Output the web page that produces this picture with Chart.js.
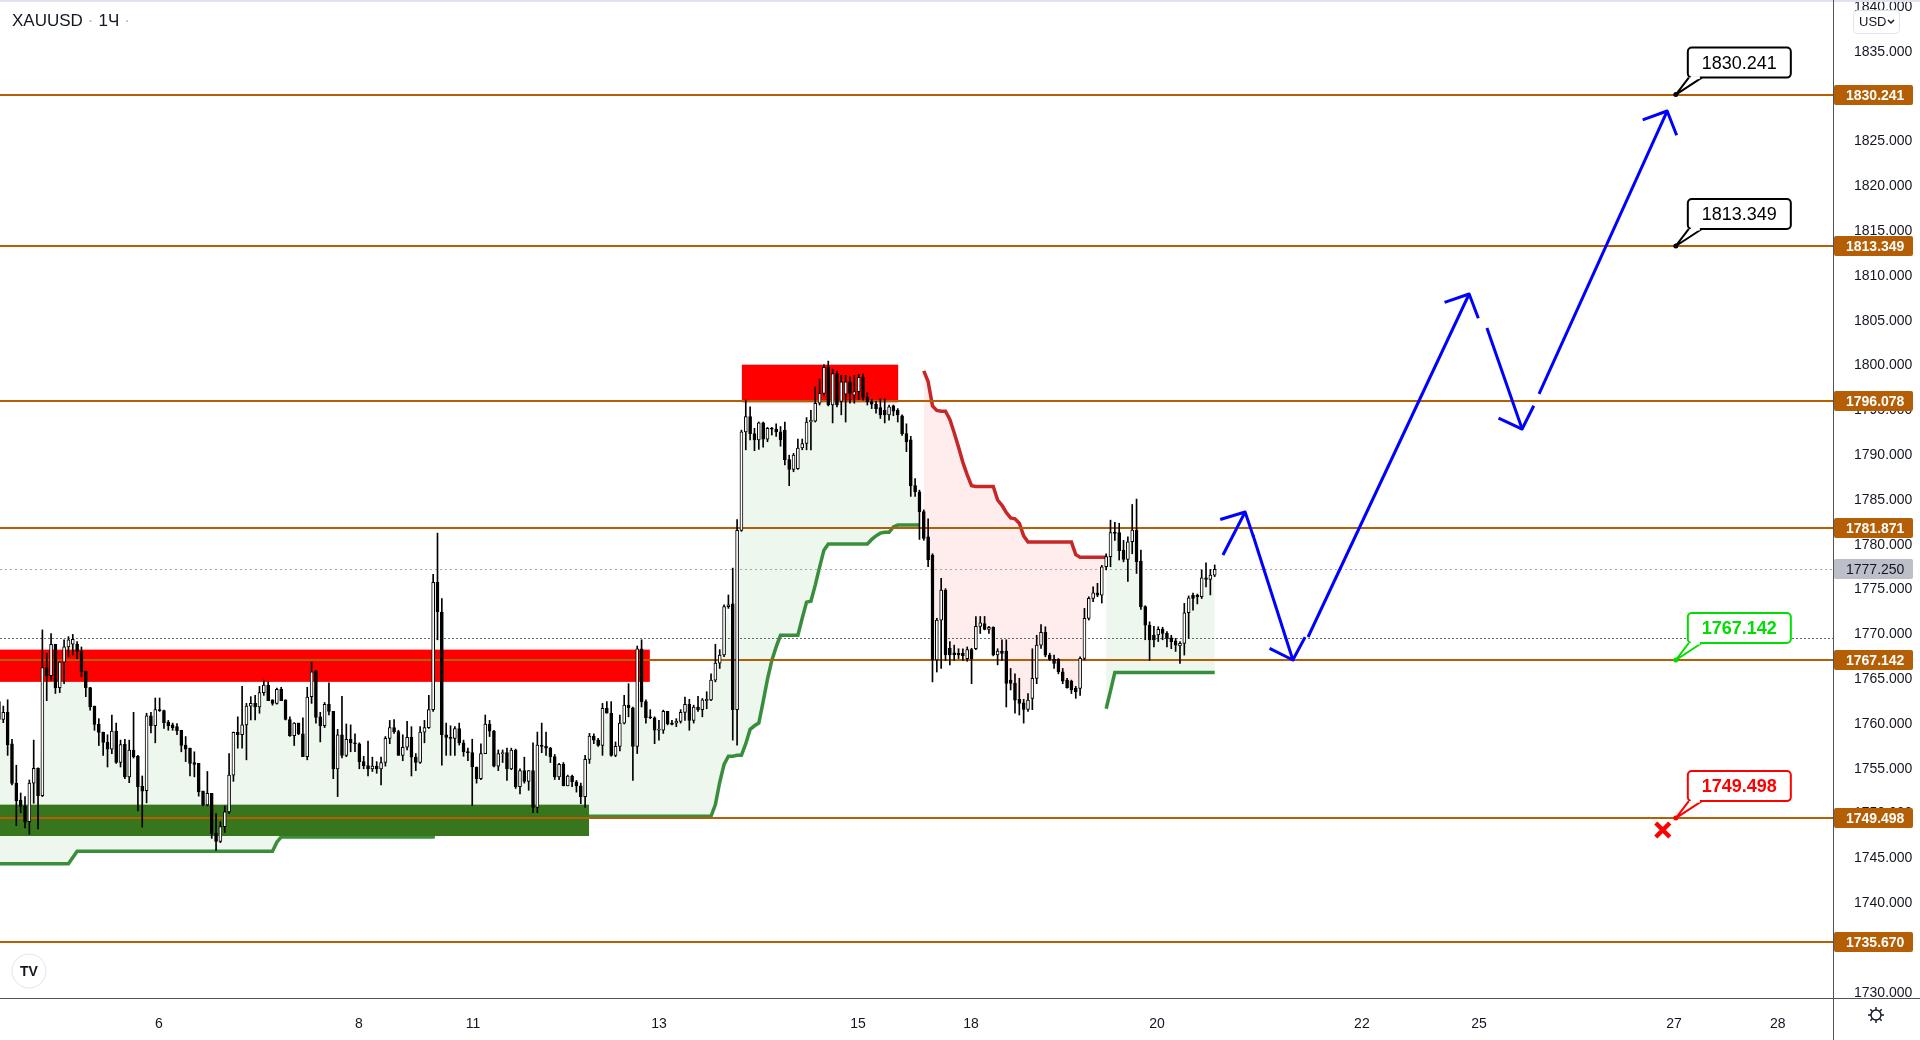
<!DOCTYPE html>
<html>
<head>
<meta charset="utf-8">
<title>XAUUSD 1Ч</title>
<script src="https://cdn.jsdelivr.net/npm/chart.js"></script>
<style>
  html, body { margin: 0; padding: 0; background: #fff; }
  #wrap { position: relative; width: 1920px; height: 1040px; overflow: hidden; }
  #title { position: absolute; left: 12px; top: 11px; font: 17px/20px "Liberation Sans", Arial, sans-serif; color: #131722; white-space: nowrap; }
  #title .dot { color: #b2b5be; margin: 0 5px; }
</style>
</head>
<body>
<div id="wrap">
  <canvas id="chart" width="1920" height="1040"></canvas>
  <div id="title">XAUUSD<span class="dot">·</span>1Ч<span class="dot">·</span></div>
</div>
<script>
// hourly candles, index 0 = first bar at the left edge
const opens = [
  1762.5, 1760.5, 1761.3, 1757.8, 1753.4, 1751.5, 1750.85, 1749.1, 1753.4, 1755.05,
  1752.0, 1766.3, 1765.4, 1768.9, 1764.05, 1766.9, 1768.6, 1768.9, 1768.9, 1768.1,
  1765.9, 1764.05, 1762.0, 1759.96, 1759.07, 1757.95, 1757.2, 1759.2, 1755.7, 1757.75,
  1754.1, 1757.1, 1756.4, 1753.05, 1752.55, 1760.9, 1759.8, 1761.6, 1761.5, 1760.2,
  1759.9, 1759.7, 1759.3, 1757.65, 1757.3, 1755.7, 1755.6, 1752.5, 1750.96, 1752.25,
  1747.8, 1746.9, 1748.54, 1750.2, 1754.3, 1759.07, 1758.8, 1759.9, 1762.0, 1762.3,
  1761.9, 1763.5, 1764.35, 1762.7, 1762.3, 1763.9, 1762.7, 1760.5, 1758.7, 1760.1,
  1758.9, 1756.35, 1763.04, 1765.9, 1760.8, 1759.8, 1762.2, 1761.4, 1755.0, 1758.8,
  1756.5, 1758.3, 1757.9, 1757.8, 1755.8, 1755.35, 1755.0, 1755.3, 1755.0, 1755.7,
  1758.4, 1759.6, 1759.15, 1756.5, 1757.4, 1758.5, 1756.3, 1755.7, 1759.1, 1759.6,
  1761.6, 1775.8, 1772.5, 1758.8, 1758.5, 1758.4, 1759.5, 1757.9, 1756.9, 1756.8,
  1755.2, 1753.9, 1756.7, 1760.0, 1759.2, 1755.3, 1756.7, 1756.8, 1755.0, 1757.1,
  1753.0, 1754.8, 1753.6, 1754.8, 1750.7, 1757.65, 1757.5, 1757.3, 1756.35, 1754.1,
  1755.5, 1753.1, 1754.2, 1753.55, 1753.1, 1751.9, 1756.05, 1758.65, 1758.2, 1757.6,
  1761.74, 1761.2, 1756.5, 1757.5, 1760.1, 1762.1, 1761.8, 1757.5, 1768.4, 1762.5,
  1760.8, 1760.7, 1759.3, 1759.3, 1761.4, 1760.1, 1760.1, 1760.3, 1761.3, 1762.2,
  1760.4, 1761.9, 1761.6, 1762.6, 1762.7, 1764.9, 1766.8, 1767.7, 1773.1, 1773.4,
  1761.6, 1781.6, 1792.6, 1794.3, 1792.4, 1791.7, 1793.6, 1791.8, 1793.0, 1792.9,
  1792.6, 1792.8, 1789.5, 1788.4, 1788.5, 1790.8, 1791.3, 1793.7, 1793.8, 1795.8,
  1796.9, 1799.8, 1795.6, 1799.1, 1796.0, 1796.8, 1798.2, 1796.7, 1797.1, 1798.7,
  1796.45, 1795.97, 1795.7, 1795.3, 1795.0, 1794.5, 1795.5, 1795.0, 1794.4, 1792.4,
  1791.7, 1786.6, 1785.9, 1783.7, 1780.9, 1778.85, 1767.14, 1771.6, 1774.95, 1768.44,
  1767.95, 1767.9, 1767.9, 1767.3, 1768.3, 1768.4, 1770.9, 1771.2, 1770.56, 1770.78,
  1767.7, 1768.14, 1768.14, 1764.9, 1764.53, 1762.75, 1762.37, 1761.63, 1762.86, 1765.09,
  1768.81, 1770.22, 1767.7, 1767.21, 1767.21, 1765.83, 1764.9, 1764.79, 1763.97, 1763.97,
  1767.32, 1771.79, 1774.02, 1774.65, 1774.39, 1777.55, 1778.67, 1781.35, 1781.35, 1779.41,
  1778.37, 1780.34, 1781.64, 1778.18, 1773.09, 1771.04, 1769.93, 1769.93, 1770.56, 1770.11,
  1769.63, 1769.29, 1768.7, 1769.0, 1772.42, 1774.35, 1774.35, 1774.2, 1776.32, 1776.14, 1776.62
];
const highs = [
  1763.0, 1762.0, 1762.7, 1758.3, 1755.4, 1752.3, 1751.9, 1753.75, 1758.2, 1755.1,
  1770.5, 1767.9, 1770.1, 1768.9, 1766.9, 1769.4, 1769.75, 1770.0, 1769.2, 1768.6,
  1765.9, 1764.1, 1762.0, 1760.6, 1759.1, 1758.8, 1761.0, 1760.1, 1758.2, 1758.3,
  1758.2, 1761.3, 1756.5, 1754.2, 1761.2, 1761.3, 1762.9, 1762.9, 1761.55, 1760.4,
  1760.1, 1760.05, 1759.3, 1758.6, 1757.3, 1756.9, 1755.6, 1752.5, 1754.7, 1752.25,
  1750.0, 1749.1, 1750.85, 1756.7, 1759.1, 1760.8, 1764.2, 1762.3, 1763.05, 1763.2,
  1764.2, 1764.9, 1764.7, 1762.7, 1764.0, 1764.1, 1762.7, 1760.8, 1760.15, 1760.1,
  1760.7, 1764.1, 1766.9, 1766.0, 1761.3, 1762.4, 1764.6, 1761.4, 1759.4, 1763.1,
  1760.0, 1759.9, 1758.9, 1757.9, 1756.4, 1758.1, 1756.3, 1755.8, 1756.3, 1758.6,
  1760.4, 1760.5, 1759.3, 1758.8, 1760.3, 1759.7, 1756.7, 1759.7, 1760.4, 1763.2,
  1776.7, 1781.3, 1774.0, 1760.1, 1759.8, 1759.7, 1760.1, 1758.2, 1757.3, 1758.3,
  1755.2, 1757.8, 1761.0, 1760.4, 1759.3, 1757.1, 1757.1, 1757.3, 1757.3, 1757.2,
  1755.0, 1756.3, 1754.8, 1757.9, 1759.1, 1760.1, 1759.1, 1757.4, 1756.6, 1755.6,
  1755.7, 1754.3, 1754.3, 1753.7, 1753.4, 1756.5, 1758.95, 1758.9, 1758.4, 1762.3,
  1762.5, 1762.5, 1758.0, 1761.0, 1763.2, 1764.5, 1761.9, 1768.7, 1769.4, 1762.7,
  1761.6, 1760.8, 1760.4, 1761.55, 1761.4, 1760.4, 1760.6, 1761.6, 1763.0, 1762.75,
  1762.1, 1763.1, 1762.85, 1763.6, 1765.6, 1768.9, 1768.3, 1773.3, 1774.4, 1777.4,
  1782.8, 1792.8, 1796.15, 1795.4, 1793.0, 1793.7, 1793.7, 1793.1, 1793.1, 1793.5,
  1793.2, 1793.7, 1790.0, 1790.2, 1791.8, 1791.8, 1794.2, 1795.0, 1797.6, 1798.5,
  1800.1, 1800.5, 1799.6, 1799.4, 1798.9, 1798.9, 1798.75, 1798.9, 1799.0, 1799.05,
  1796.97, 1796.2, 1796.0, 1796.3, 1796.3, 1795.6, 1795.6, 1795.2, 1794.5, 1793.5,
  1792.1, 1787.4, 1786.1, 1783.9, 1782.9, 1779.0, 1771.8, 1776.25, 1775.1, 1769.2,
  1768.8, 1768.4, 1768.4, 1768.6, 1768.45, 1772.0, 1772.0, 1772.0, 1770.9, 1770.85,
  1768.4, 1769.4, 1769.4, 1766.2, 1765.6, 1765.1, 1762.75, 1763.4, 1768.4, 1769.9,
  1771.1, 1770.85, 1767.9, 1767.7, 1767.3, 1766.2, 1765.1, 1764.9, 1764.2, 1767.5,
  1772.9, 1774.2, 1775.3, 1775.7, 1777.7, 1779.0, 1782.75, 1782.5, 1782.4, 1780.5,
  1780.9, 1784.5, 1785.1, 1779.4, 1773.2, 1771.4, 1770.9, 1770.85, 1770.8, 1770.3,
  1769.9, 1769.55, 1769.2, 1773.46, 1774.3, 1774.6, 1774.5, 1777.2, 1778.0, 1777.25, 1777.75
];
const lows = [
  1758.8, 1760.15, 1756.5, 1753.2, 1748.65, 1750.1, 1748.4, 1747.7, 1751.15, 1748.3,
  1751.9, 1762.6, 1764.9, 1763.4, 1763.5, 1764.5, 1767.5, 1767.7, 1767.3, 1765.3,
  1763.05, 1761.55, 1759.3, 1757.6, 1756.5, 1755.2, 1756.7, 1755.6, 1755.2, 1753.9,
  1753.45, 1756.2, 1750.3, 1748.5, 1751.2, 1759.0, 1757.9, 1761.4, 1759.5, 1759.3,
  1759.3, 1758.8, 1756.9, 1755.8, 1754.2, 1754.1, 1751.95, 1750.85, 1750.85, 1747.24,
  1745.9, 1746.76, 1747.9, 1750.0, 1753.6, 1757.3, 1757.3, 1756.0, 1760.45, 1760.45,
  1761.2, 1763.2, 1762.6, 1762.1, 1762.2, 1762.6, 1760.45, 1758.6, 1757.6, 1758.8,
  1756.35, 1756.0, 1762.3, 1760.1, 1758.0, 1759.6, 1761.0, 1753.9, 1751.9, 1756.2,
  1756.35, 1756.9, 1756.9, 1755.0, 1755.0, 1754.2, 1754.7, 1754.5, 1753.2, 1755.3,
  1757.8, 1758.95, 1756.5, 1755.9, 1757.1, 1754.2, 1754.8, 1755.6, 1757.9, 1759.5,
  1761.4, 1769.4, 1755.4, 1756.5, 1756.5, 1756.5, 1757.65, 1756.4, 1755.9, 1750.9,
  1753.4, 1753.8, 1756.7, 1758.6, 1755.2, 1754.8, 1755.7, 1753.7, 1754.9, 1752.8,
  1752.2, 1753.4, 1752.6, 1750.1, 1750.1, 1756.8, 1756.5, 1755.7, 1753.8, 1753.8,
  1753.1, 1753.1, 1753.0, 1752.4, 1751.1, 1750.7, 1755.6, 1757.8, 1757.5, 1756.5,
  1761.2, 1756.4, 1756.35, 1757.0, 1760.0, 1760.8, 1753.7, 1756.7, 1761.9, 1760.1,
  1760.6, 1757.8, 1758.2, 1758.95, 1759.9, 1759.9, 1759.7, 1760.1, 1760.4, 1759.3,
  1760.1, 1761.4, 1760.8, 1761.7, 1762.6, 1764.7, 1766.2, 1767.5, 1772.9, 1758.2,
  1757.65, 1781.5, 1790.6, 1791.7, 1790.5, 1790.65, 1790.9, 1791.5, 1792.25, 1792.1,
  1791.0, 1788.9, 1786.6, 1788.15, 1788.4, 1790.6, 1790.6, 1790.6, 1793.7, 1795.6,
  1796.7, 1795.5, 1793.6, 1795.4, 1794.5, 1793.7, 1795.8, 1795.8, 1796.2, 1796.15,
  1795.6, 1795.2, 1794.7, 1794.1, 1793.6, 1793.9, 1794.4, 1793.7, 1792.2, 1790.4,
  1785.4, 1785.4, 1780.6, 1780.5, 1777.55, 1764.7, 1765.8, 1766.2, 1767.1, 1766.6,
  1767.1, 1767.3, 1767.1, 1767.0, 1764.5, 1768.3, 1770.1, 1770.5, 1770.1, 1767.6,
  1766.6, 1767.1, 1761.9, 1763.8, 1761.2, 1761.0, 1760.1, 1761.4, 1761.6, 1764.5,
  1768.44, 1767.5, 1767.1, 1766.2, 1765.6, 1764.5, 1764.0, 1763.4, 1762.86, 1763.2,
  1767.14, 1771.6, 1773.65, 1774.2, 1773.5, 1777.2, 1777.55, 1780.5, 1778.3, 1778.1,
  1775.9, 1779.0, 1776.8, 1772.8, 1769.4, 1767.1, 1768.6, 1769.2, 1769.4, 1768.6,
  1768.4, 1768.1, 1766.76, 1767.69, 1769.55, 1772.7, 1773.4, 1774.0, 1775.3, 1774.4, 1776.45
];
const closes = [
  1760.5, 1761.3, 1757.66, 1753.38, 1751.44, 1750.8, 1749.1, 1753.4, 1755.05, 1752.0,
  1766.3, 1765.36, 1768.9, 1764.05, 1766.9, 1768.6, 1769.4, 1769.45, 1768.1, 1765.8,
  1764.05, 1761.9, 1759.96, 1759.07, 1757.95, 1757.2, 1759.2, 1755.7, 1757.7, 1754.1,
  1757.1, 1756.35, 1753.0, 1752.5, 1760.9, 1759.8, 1761.6, 1761.5, 1760.15, 1759.8,
  1759.6, 1759.25, 1757.6, 1757.2, 1755.6, 1755.5, 1752.45, 1750.96, 1752.25, 1747.8,
  1746.9, 1748.54, 1750.2, 1754.3, 1759.07, 1758.8, 1759.9, 1762.0, 1762.3, 1761.9,
  1763.5, 1764.35, 1762.6, 1762.3, 1763.87, 1762.6, 1760.5, 1758.7, 1760.1, 1758.9,
  1756.35, 1763.0, 1765.83, 1760.74, 1759.8, 1762.2, 1761.4, 1755.0, 1758.8, 1756.5,
  1758.3, 1757.9, 1757.8, 1755.8, 1755.35, 1755.0, 1755.3, 1755.0, 1755.7, 1758.4,
  1759.6, 1759.15, 1756.5, 1757.4, 1758.5, 1756.3, 1755.7, 1759.1, 1759.6, 1761.6,
  1775.8, 1772.5, 1758.8, 1758.5, 1758.4, 1759.5, 1757.9, 1756.9, 1756.8, 1755.2,
  1753.9, 1756.7, 1760.0, 1759.2, 1755.3, 1756.7, 1756.8, 1755.0, 1757.1, 1753.0,
  1754.8, 1753.6, 1754.8, 1750.7, 1757.65, 1757.5, 1757.3, 1756.35, 1754.1, 1755.5,
  1753.1, 1754.2, 1753.55, 1753.1, 1751.9, 1756.05, 1758.65, 1758.2, 1757.6, 1761.74,
  1761.2, 1756.5, 1757.5, 1760.1, 1762.1, 1761.8, 1757.5, 1768.4, 1762.5, 1760.7,
  1760.7, 1759.3, 1759.4, 1761.4, 1760.0, 1759.96, 1760.3, 1761.3, 1762.2, 1760.4,
  1761.9, 1761.6, 1762.7, 1762.75, 1764.9, 1766.8, 1767.7, 1773.1, 1773.3, 1761.6,
  1781.6, 1792.6, 1794.3, 1792.4, 1791.7, 1793.6, 1791.8, 1793.0, 1792.9, 1792.6,
  1791.7, 1789.5, 1788.4, 1790.0, 1790.8, 1791.3, 1793.7, 1793.9, 1795.8, 1796.9,
  1799.8, 1795.6, 1799.1, 1795.6, 1798.2, 1798.2, 1796.9, 1797.1, 1798.7, 1796.45,
  1795.97, 1795.7, 1795.2, 1794.5, 1794.5, 1795.4, 1794.9, 1794.5, 1792.4, 1791.5,
  1786.6, 1785.9, 1783.7, 1780.7, 1778.3, 1767.14, 1771.6, 1774.95, 1767.7, 1767.7,
  1767.7, 1767.7, 1767.6, 1768.3, 1767.3, 1770.9, 1771.3, 1770.56, 1770.78, 1767.7,
  1768.14, 1767.88, 1764.53, 1764.53, 1762.67, 1762.3, 1761.63, 1762.67, 1765.09, 1768.81,
  1770.22, 1767.69, 1767.21, 1766.76, 1765.83, 1764.79, 1764.05, 1763.79, 1763.6, 1767.32,
  1771.79, 1774.02, 1774.65, 1774.39, 1777.55, 1778.67, 1781.35, 1781.27, 1779.34, 1778.37,
  1780.34, 1781.64, 1778.11, 1773.09, 1771.04, 1769.37, 1769.37, 1770.56, 1770.11, 1769.55,
  1769.18, 1768.81, 1769.0, 1772.42, 1774.09, 1774.02, 1774.2, 1776.32, 1776.14, 1776.62, 1777.25
];

// supertrend, up phase bars 0..212, down phase 213..255, up again 255..280
const upTrendA = [
  1744.4, 1744.4, 1744.4, 1744.4, 1744.4, 1744.4, 1744.4, 1744.4, 1744.4, 1744.4,
  1744.4, 1744.4, 1744.4, 1744.4, 1744.4, 1744.4, 1744.4, 1745.1, 1745.8, 1745.8,
  1745.8, 1745.8, 1745.8, 1745.8, 1745.8, 1745.8, 1745.8, 1745.8, 1745.8, 1745.8,
  1745.8, 1745.8, 1745.8, 1745.8, 1745.8, 1745.8, 1745.8, 1745.8, 1745.8, 1745.8,
  1745.8, 1745.8, 1745.8, 1745.8, 1745.8, 1745.8, 1745.8, 1745.8, 1745.8, 1745.8,
  1745.8, 1745.8, 1745.8, 1745.8, 1745.8, 1745.8, 1745.8, 1745.8, 1745.8, 1745.8,
  1745.8, 1745.8, 1745.8, 1745.8, 1746.8, 1747.4, 1747.4, 1747.4, 1747.4, 1747.4,
  1747.4, 1747.4, 1747.4, 1747.4, 1747.4, 1747.4, 1747.4, 1747.4, 1747.4, 1747.4,
  1747.4, 1747.4, 1747.4, 1747.4, 1747.4, 1747.4, 1747.4, 1747.4, 1747.4, 1747.4,
  1747.4, 1747.4, 1747.4, 1747.4, 1747.4, 1747.4, 1747.4, 1747.4, 1747.4, 1747.4,
  1747.4, 1749.7, 1749.7, 1749.7, 1749.7, 1749.7, 1749.7, 1749.7, 1749.7, 1749.7,
  1749.7, 1749.7, 1749.7, 1749.7, 1749.7, 1749.7, 1749.7, 1749.7, 1749.7, 1749.7,
  1749.7, 1749.7, 1749.7, 1749.7, 1749.7, 1749.7, 1749.7, 1749.7, 1749.7, 1749.7,
  1749.7, 1749.7, 1749.7, 1749.7, 1749.7, 1749.7, 1749.7, 1749.7, 1749.7, 1749.7,
  1749.7, 1749.7, 1749.7, 1749.7, 1749.7, 1749.7, 1749.7, 1749.7, 1749.7, 1749.7,
  1749.7, 1749.7, 1749.7, 1749.7, 1749.7, 1749.7, 1749.7, 1749.7, 1749.7, 1749.7,
  1749.7, 1749.7, 1749.7, 1749.7, 1749.7, 1751.0, 1753.5, 1755.5, 1756.4, 1756.4,
  1756.5, 1756.5, 1757.8, 1759.4, 1759.8, 1760.1, 1762.5, 1765.0, 1767.1, 1768.6,
  1769.9, 1769.9, 1769.9, 1769.9, 1769.9, 1771.8, 1773.6, 1773.7, 1775.5, 1777.5,
  1779.4, 1780.1, 1780.1, 1780.1, 1780.1, 1780.1, 1780.1, 1780.1, 1780.1, 1780.1,
  1780.1, 1780.6, 1781.0, 1781.3, 1781.4, 1781.4, 1782.0, 1782.2, 1782.2, 1782.2,
  1782.2, 1782.2, 1782.2
];
const downTrendStart = 213;
const downTrend = [
  1799.4, 1798.2, 1795.5, 1795.0, 1794.9, 1794.9, 1794.0, 1792.5, 1790.9, 1789.2,
  1787.8, 1786.6, 1786.5, 1786.5, 1786.5, 1786.5, 1786.5, 1785.0, 1784.4, 1783.6,
  1783.0, 1782.9, 1782.4, 1781.0, 1780.3, 1780.3, 1780.3, 1780.3, 1780.3, 1780.3,
  1780.3, 1780.3, 1780.3, 1780.3, 1780.3, 1778.9, 1778.6, 1778.6, 1778.6, 1778.6,
  1778.6, 1778.6, 1778.6
];
const upTrendBStart = 255;
const upTrendB = [
  1761.7, 1763.7, 1765.76, 1765.76, 1765.76, 1765.76, 1765.76, 1765.76, 1765.76, 1765.76,
  1765.76, 1765.76, 1765.76, 1765.76, 1765.76, 1765.76, 1765.76, 1765.76, 1765.76, 1765.76,
  1765.76, 1765.76, 1765.76, 1765.76, 1765.76, 1765.76
];

// axes
const dayTickPos = [36.86, 82.92, 109.17, 152.0, 197.85, 223.87, 266.7, 313.9, 340.87, 385.8, 409.7];
const dayLabels = ['6', '8', '11', '13', '15', '18', '20', '22', '25', '27', '28'];
const priceTicks = [1730, 1735, 1740, 1745, 1750, 1755, 1760, 1765, 1770, 1775, 1780,
  1785, 1790, 1795, 1800, 1805, 1810, 1815, 1820, 1825, 1830, 1835, 1840];

// drawings: levels, zones [fromBar, toBar, low, high], arrows, callouts
const levels = [1830.241, 1813.349, 1796.078, 1781.871, 1767.142, 1749.498, 1735.670];
const lastPrice = 1777.25;
const prevPriceLine = 1769.6;
const supplyZones = [[-5, 149.9, 1764.7, 1768.3], [171.1, 207.1, 1795.9, 1800.1]];
const demandZones = [[-5, 135.9, 1747.5, 1751.0]];
const arrowFrom = [[281.9, 1778.86], [288.8, 1781.09], [301.5, 1769.71], [342.7, 1804.19], [354.7, 1796.83]];
const arrowTo = [[287.0, 1783.66], [298.0, 1767.14], [338.6, 1807.99], [350.8, 1792.92], [384.2, 1828.41]];
const calloutBar = 386.2;
const calloutPrices = [1830.241, 1813.349, 1767.142, 1749.498];
const calloutColors = ['#000000', '#000000', '#00dd00', '#ff0000'];
const calloutBold = [false, false, true, true];
const stopMark = [383.2, 1748.17];

const ORANGE = '#b45f06';
const FONT = '"Liberation Sans", Arial, sans-serif';

const bars = opens.map((o, i) => i);
const mid = i => (opens[i] + closes[i]) / 2;
const wickData = bars.map(i => ({ x: i, y: [lows[i], highs[i]] }));
const bodyData = bars.map(i => ({ x: i, y: [Math.min(opens[i], closes[i]), Math.max(opens[i], closes[i])] }));
const bodyColors = bars.map(i => closes[i] >= opens[i] ? '#ffffff' : '#000000');

const upA = upTrendA.map((v, k) => ({ x: k, y: v }));
const midA = upTrendA.map((v, k) => ({ x: k, y: mid(k) }));
const upB = upTrendB.map((v, k) => ({ x: upTrendBStart + k, y: v }));
const midB = upTrendB.map((v, k) => ({ x: upTrendBStart + k, y: mid(upTrendBStart + k) }));
const dn = downTrend.map((v, k) => ({ x: downTrendStart + k, y: v }));
const midDn = downTrend.map((v, k) => ({ x: downTrendStart + k, y: mid(downTrendStart + k) }));

const greenFill = 'rgba(76,175,80,0.1)';
const redFill = 'rgba(255,82,82,0.11)';

function lineSet(data, color, width, order, fill) {
  return { type: 'line', data: data, borderColor: color, borderWidth: width, pointRadius: 0,
    tension: 0, fill: fill, order: order, spanGaps: false };
}

function roundRect(ctx, x, y, w, h, r) {
  ctx.beginPath();
  ctx.moveTo(x + r, y);
  ctx.arcTo(x + w, y, x + w, y + h, r);
  ctx.arcTo(x + w, y + h, x, y + h, r);
  ctx.arcTo(x, y + h, x, y, r);
  ctx.arcTo(x, y, x + w, y, r);
  ctx.closePath();
}

const overlay = {
  id: 'overlay',
  beforeDatasetDraw(chart, args) {
    if (args.index !== 1) return; // right before the wicks
    const { ctx, chartArea: a, scales: { x, y } } = chart;
    ctx.save();
    ctx.beginPath();
    ctx.rect(a.left, a.top, a.right - a.left, a.bottom - a.top);
    ctx.clip();

    ctx.fillStyle = '#ff0000';
    supplyZones.forEach(z => {
      const x1 = x.getPixelForValue(z[0]), x2 = x.getPixelForValue(z[1]);
      const y1 = y.getPixelForValue(z[3]), y2 = y.getPixelForValue(z[2]);
      ctx.fillRect(x1, y1, x2 - x1, y2 - y1);
    });
    ctx.fillStyle = '#38761d';
    demandZones.forEach(z => {
      const x1 = x.getPixelForValue(z[0]), x2 = x.getPixelForValue(z[1]);
      const y1 = y.getPixelForValue(z[3]), y2 = y.getPixelForValue(z[2]);
      ctx.fillRect(x1, y1, x2 - x1, y2 - y1);
    });

    // dotted price lines
    ctx.lineWidth = 1;
    ctx.setLineDash([2, 3]);
    ctx.strokeStyle = '#a3a6af';
    let py = Math.round(y.getPixelForValue(lastPrice)) + 0.5;
    ctx.beginPath(); ctx.moveTo(a.left, py); ctx.lineTo(a.right, py); ctx.stroke();
    ctx.setLineDash([2, 2]);
    ctx.strokeStyle = '#666a75';
    py = Math.round(y.getPixelForValue(prevPriceLine)) + 0.5;
    ctx.beginPath(); ctx.moveTo(a.left, py); ctx.lineTo(a.right, py); ctx.stroke();
    ctx.setLineDash([]);

    // horizontal levels
    ctx.strokeStyle = ORANGE;
    ctx.lineWidth = 2;
    levels.forEach(p => {
      const ly = Math.round(y.getPixelForValue(p));
      ctx.beginPath(); ctx.moveTo(a.left, ly); ctx.lineTo(a.right, ly); ctx.stroke();
    });
    ctx.restore();
  },
  afterDatasetsDraw(chart) {
    const { ctx, scales: { x, y } } = chart;
    ctx.save();

    // blue path arrows
    ctx.strokeStyle = '#0000ff';
    ctx.lineWidth = 3;
    ctx.lineJoin = 'round';
    arrowFrom.forEach((f, k) => {
      const t = arrowTo[k];
      const x1 = x.getPixelForValue(f[0]), y1 = y.getPixelForValue(f[1]);
      const x2 = x.getPixelForValue(t[0]), y2 = y.getPixelForValue(t[1]);
      const ang = Math.atan2(y1 - y2, x1 - x2);
      ctx.beginPath(); ctx.moveTo(x1, y1); ctx.lineTo(x2, y2); ctx.stroke();
      ctx.beginPath();
      ctx.moveTo(x2 + 26 * Math.cos(ang + 0.8), y2 + 26 * Math.sin(ang + 0.8));
      ctx.lineTo(x2, y2);
      ctx.lineTo(x2 + 26 * Math.cos(ang - 0.8), y2 + 26 * Math.sin(ang - 0.8));
      ctx.stroke();
    });

    // price callouts
    calloutPrices.forEach((p, k) => {
      const ax = x.getPixelForValue(calloutBar), ay = y.getPixelForValue(p);
      const col = calloutColors[k];
      const bx = ax + 12, by = ay - 47, bw = 103, bh = 30;
      ctx.lineWidth = 2;
      ctx.strokeStyle = col;
      ctx.fillStyle = '#ffffff';
      roundRect(ctx, bx, by, bw, bh, 4);
      ctx.fill(); ctx.stroke();
      ctx.beginPath();
      ctx.moveTo(bx + 1, by + bh); ctx.lineTo(ax, ay); ctx.lineTo(bx + 14, by + bh);
      ctx.closePath(); ctx.fill();
      ctx.beginPath();
      ctx.moveTo(bx + 1, by + bh); ctx.lineTo(ax, ay); ctx.lineTo(bx + 14, by + bh);
      ctx.stroke();
      ctx.fillStyle = '#ffffff';
      ctx.fillRect(bx + 3, by + bh - 1.5, 9, 3);
      ctx.fillStyle = col;
      ctx.beginPath(); ctx.arc(ax, ay, 2.5, 0, Math.PI * 2); ctx.fill();
      ctx.font = (calloutBold[k] ? 'bold ' : '') + '18px ' + FONT;
      ctx.textAlign = 'center';
      ctx.textBaseline = 'middle';
      ctx.fillText(p.toFixed(3), bx + bw / 2, by + bh / 2 + 1);
    });

    // stop mark
    const sx = x.getPixelForValue(stopMark[0]), sy = y.getPixelForValue(stopMark[1]);
    ctx.strokeStyle = '#ff0000';
    ctx.lineWidth = 4.5;
    ctx.lineCap = 'butt';
    ctx.beginPath();
    ctx.moveTo(sx - 7, sy - 7); ctx.lineTo(sx + 7, sy + 7);
    ctx.moveTo(sx + 7, sy - 7); ctx.lineTo(sx - 7, sy + 7);
    ctx.stroke();
    ctx.restore();
  },
  afterDraw(chart) {
    const { ctx, chartArea: a, scales: { y } } = chart;
    const W = chart.width, H = chart.height;
    ctx.save();

    // frame
    ctx.fillStyle = '#e0e3eb';
    ctx.fillRect(0, 0, W, 2);
    ctx.strokeStyle = '#50535e';
    ctx.lineWidth = 1;
    ctx.beginPath();
    ctx.moveTo(0, Math.round(a.bottom) + 0.5); ctx.lineTo(W, Math.round(a.bottom) + 0.5);
    ctx.moveTo(Math.round(a.right) + 0.5, 0); ctx.lineTo(Math.round(a.right) + 0.5, H);
    ctx.stroke();

    // axis price tags
    const tag = (p, bg, fg, bold) => {
      const ty = Math.round(y.getPixelForValue(p));
      ctx.fillStyle = bg;
      roundRect(ctx, a.right + 1, ty - 10, 79, 20, 2);
      ctx.fill();
      ctx.fillStyle = fg;
      ctx.font = (bold ? 'bold ' : '') + '14px ' + FONT;
      ctx.textAlign = 'left';
      ctx.textBaseline = 'middle';
      ctx.fillText(p.toFixed(3), a.right + 13, ty + 1);
    };
    levels.forEach(p => tag(p, ORANGE, '#ffffff', true));
    tag(lastPrice, '#bcbfc7', '#131722', false);

    // currency button
    ctx.fillStyle = '#ffffff';
    ctx.strokeStyle = '#e0e3eb';
    ctx.lineWidth = 1;
    roundRect(ctx, a.right + 20.5, 10.5, 46, 23, 4);
    ctx.fill(); ctx.stroke();
    ctx.fillStyle = '#131722';
    ctx.font = '13px ' + FONT;
    ctx.textAlign = 'left';
    ctx.textBaseline = 'middle';
    ctx.fillText('USD', a.right + 26, 22.5);
    ctx.strokeStyle = '#131722';
    ctx.lineWidth = 1.5;
    ctx.beginPath();
    ctx.moveTo(a.right + 55, 20); ctx.lineTo(a.right + 58, 23); ctx.lineTo(a.right + 61, 20);
    ctx.stroke();

    // settings gear
    const gx = a.right + 43, gy = a.bottom + 17;
    ctx.strokeStyle = '#131722';
    ctx.lineWidth = 1.4;
    ctx.beginPath(); ctx.arc(gx, gy, 5, 0, Math.PI * 2); ctx.stroke();
    ctx.beginPath();
    for (let k = 0; k < 8; k++) {
      const t = k * Math.PI / 4;
      ctx.moveTo(gx + 5 * Math.cos(t), gy + 5 * Math.sin(t));
      ctx.lineTo(gx + 8 * Math.cos(t), gy + 8 * Math.sin(t));
    }
    ctx.stroke();

    // logo badge
    const lx = a.left + 29, ly = a.bottom - 27;
    ctx.fillStyle = '#ffffff';
    ctx.strokeStyle = '#e0e3eb';
    ctx.lineWidth = 1;
    ctx.beginPath(); ctx.arc(lx, ly, 17, 0, Math.PI * 2); ctx.fill(); ctx.stroke();
    ctx.fillStyle = '#131722';
    ctx.font = 'bold 14px ' + FONT;
    ctx.textAlign = 'center';
    ctx.fillText('TV', lx, ly + 1);
    ctx.restore();
  }
};

Chart.defaults.font.family = FONT;
Chart.defaults.font.size = 14;
Chart.defaults.color = '#131722';

new Chart(document.getElementById('chart').getContext('2d'), {
  type: 'bar',
  data: {
    datasets: [
      { id: 'body', data: bodyData, backgroundColor: bodyColors, borderColor: '#000000', borderWidth: 1,
        borderSkipped: false, barThickness: 3, minBarLength: 1, grouped: false, order: 0 },
      { id: 'wick', data: wickData, backgroundColor: '#000000', borderWidth: 0,
        barThickness: 1, minBarLength: 1, grouped: false, order: 1 },
      lineSet(upA, '#388e3c', 3.5, 2, { target: 5, above: greenFill, below: greenFill }),
      lineSet(upB, '#388e3c', 3.5, 3, { target: 6, above: greenFill, below: greenFill }),
      lineSet(dn, '#c62828', 3.5, 4, { target: 7, above: redFill, below: redFill }),
      lineSet(midA, 'rgba(0,0,0,0)', 1, 5, false),
      lineSet(midB, 'rgba(0,0,0,0)', 1, 6, false),
      lineSet(midDn, 'rgba(0,0,0,0)', 1, 7, false)
    ]
  },
  options: {
    responsive: false,
    animation: false,
    events: [],
    layout: { padding: 0 },
    plugins: { legend: { display: false }, tooltip: { enabled: false } },
    scales: {
      x: {
        type: 'linear', min: 0.2395, max: 422.4, offset: false, bounds: 'data',
        grid: { display: false }, border: { display: false },
        afterBuildTicks: s => { s.ticks = dayTickPos.map(v => ({ value: v })); },
        ticks: { autoSkip: false, maxRotation: 0, padding: 10, callback: (v, i) => dayLabels[i] },
        afterFit: s => { s.height = 42; s.paddingLeft = 0; s.paddingRight = 0; }
      },
      y: {
        type: 'linear', position: 'right', min: 1729.42, max: 1840.8, bounds: 'data',
        grid: { display: false }, border: { display: false },
        afterBuildTicks: s => { s.ticks = priceTicks.map(v => ({ value: v })); },
        ticks: { padding: 13, callback: v => v.toFixed(3) },
        afterFit: s => { s.width = 87; s.paddingTop = 0; s.paddingBottom = 0; }
      }
    }
  },
  plugins: [overlay]
});
</script>
</body>
</html>
